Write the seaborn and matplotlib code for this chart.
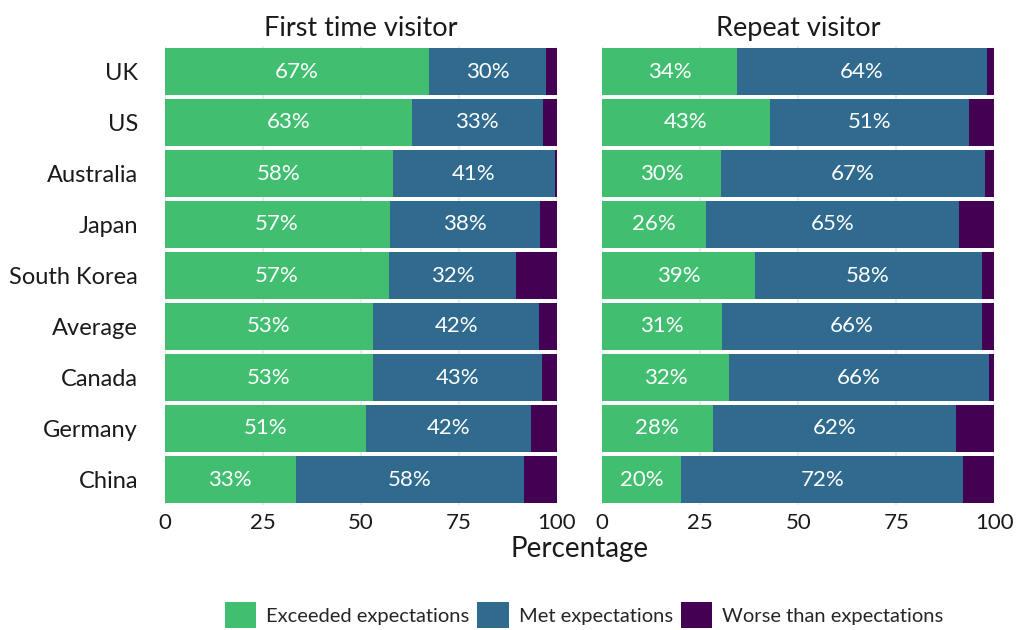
import matplotlib
matplotlib.use("Agg")
import matplotlib.pyplot as plt
from matplotlib.patches import Patch
import seaborn as sns
import pandas as pd

countries = ["UK", "US", "Australia", "Japan", "South Korea", "Average", "Canada", "Germany", "China"]
categories = ["Exceeded expectations", "Met expectations", "Worse than expectations"]
panels = ["First time visitor", "Repeat visitor"]

first_exceeded = [67.4, 63.0, 58.2, 57.4, 57.2, 53.2, 53.1, 51.4, 33.4]
first_met = [29.7, 33.4, 41.3, 38.2, 32.4, 42.3, 43.1, 42.1, 58.3]
first_worse = [2.9, 3.6, 0.5, 4.4, 10.4, 4.5, 3.8, 6.5, 8.3]

repeat_exceeded = [34.4, 42.7, 30.3, 26.4, 38.9, 30.6, 32.3, 28.2, 20.1]
repeat_met = [63.6, 50.9, 67.2, 64.6, 57.8, 66.1, 66.2, 62.1, 72.0]
repeat_worse = [2.0, 6.4, 2.5, 9.2, 3.3, 3.3, 1.5, 9.7, 7.9]

colors = ["#42BE71", "#306A8E", "#440154"]
FONT = ["Lato", "DejaVu Sans"]

sns.set_theme(style="white")
plt.rcParams["font.family"] = FONT

fig = plt.figure(figsize=(10.19, 6.30), dpi=100)
ax1 = fig.add_axes([164.5 / 1019, 1 - 505 / 630, 392.5 / 1019, 459 / 630])
ax2 = fig.add_axes([602 / 1019, 1 - 505 / 630, 392.5 / 1019, 459 / 630])

data = [(first_exceeded, first_met, first_worse), (repeat_exceeded, repeat_met, repeat_worse)]

for ax, title, (ex, met, wo) in zip([ax1, ax2], panels, data):
    df = pd.DataFrame({"country": countries, "ex": ex, "met": met, "wo": wo})
    df["c_met"] = df["ex"] + df["met"]
    df["c_wo"] = df["c_met"] + df["wo"]
    ax.set_axisbelow(True)
    ax.grid(axis="x", color="#EBEBEB", linewidth=1.6)
    ax.grid(axis="y", visible=False)
    for col, color in zip(["c_wo", "c_met", "ex"], colors[::-1]):
        sns.barplot(data=df, x=col, y="country", order=countries, orient="h",
                    color=color, width=0.92, saturation=1, ax=ax, linewidth=0,
                    edgecolor="none")
    for i, row in df.iterrows():
        ax.text(row["ex"] / 2, i, f"{row['ex']:.0f}%", ha="center", va="center",
                color="white", fontsize=16)
        ax.text(row["ex"] + row["met"] / 2, i, f"{row['met']:.0f}%", ha="center",
                va="center", color="white", fontsize=16)
    ax.set_xlim(0, 100)
    ax.set_ylim(8.5, -0.5)
    ax.set_xticks([0, 25, 50, 75, 100])
    ax.set_xticklabels(["0", "25", "50", "75", "100"])
    ax.tick_params(axis="x", length=0, labelsize=16, colors="#1A1A1A", pad=6)
    ax.tick_params(axis="y", length=0, labelsize=17, colors="#1A1A1A", pad=19)
    ax.set_xlabel("")
    ax.set_ylabel("")
    ax.set_title(title, fontsize=19.5, color="#1A1A1A", pad=7)
    for s in ax.spines.values():
        s.set_visible(False)

ax2.set_yticklabels([])

fig.text(580 / 1019, 1 - 549 / 630, "Percentage", ha="center", va="center",
         fontsize=20, color="#1A1A1A")

handles = [Patch(facecolor=c, edgecolor="none") for c in colors]
fig.legend(handles, categories, loc="center", bbox_to_anchor=(584 / 1019, 1 - 615 / 630),
           ncol=3, frameon=False, fontsize=14.5, handlelength=1.55, handleheight=1.55,
           handletextpad=0.5, columnspacing=0.4, borderaxespad=0)

fig.savefig("out.png", dpi=100)
